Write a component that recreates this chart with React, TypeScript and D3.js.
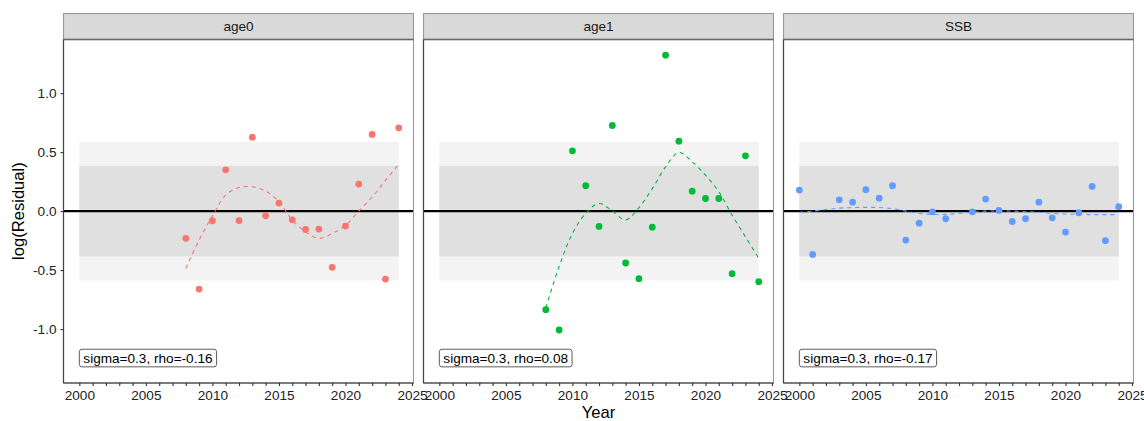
import React, { useEffect, useRef } from "react";
import * as d3 from "d3";

// facets
const panelNames = ["age0", "age1", "SSB"];
const panelColors = ["#F8766D", "#00BA38", "#619CFF"];
const panelLabels = ["sigma=0.3, rho=-0.16", "sigma=0.3, rho=0.08", "sigma=0.3, rho=-0.17"];

// age0
const age0Years = [2008, 2009, 2010, 2011, 2012, 2013, 2014, 2015, 2016, 2017, 2018, 2019, 2020, 2021, 2022, 2023, 2024];
const age0Resid = [-0.231, -0.661, -0.082, 0.35, -0.08, 0.627, -0.04, 0.068, -0.074, -0.155, -0.152, -0.477, -0.127, 0.229, 0.65, -0.576, 0.706];
const age0Smooth = [-0.486, -0.246, -0.04, 0.136, 0.2, 0.206, 0.17, 0.08, -0.076, -0.175, -0.231, -0.19, -0.12, 0.0, 0.12, 0.26, 0.396];

// age1
const age1Years = [2008, 2009, 2010, 2011, 2012, 2013, 2014, 2015, 2016, 2017, 2018, 2019, 2020, 2021, 2022, 2023, 2024];
const age1Resid = [-0.836, -1.008, 0.511, 0.215, -0.13, 0.726, -0.44, -0.573, -0.136, 1.322, 0.593, 0.169, 0.107, 0.107, -0.531, 0.469, -0.599];
const age1Smooth = [-0.82, -0.47, -0.19, -0.02, 0.065, 0.0, -0.075, 0.03, 0.19, 0.375, 0.497, 0.418, 0.305, 0.164, -0.034, -0.218, -0.4];

// SSB
const ssbYears = [2000, 2001, 2003, 2004, 2005, 2006, 2007, 2008, 2009, 2010, 2011, 2013, 2014, 2015, 2016, 2017, 2018, 2019, 2020, 2021, 2022, 2023, 2024];
const ssbResid = [0.178, -0.367, 0.096, 0.076, 0.181, 0.11, 0.215, -0.246, -0.102, -0.006, -0.065, -0.006, 0.102, 0.006, -0.088, -0.065, 0.076, -0.057, -0.178, -0.014, 0.209, -0.251, 0.037];
const ssbSmooth = [-0.01, 0.0, 0.025, 0.03, 0.032, 0.03, 0.02, 0.0, -0.02, -0.028, -0.028, -0.01, 0.0, 0.0, 0.0, -0.005, -0.01, -0.02, -0.025, -0.028, -0.03, -0.03, -0.03];

const panelYears = [age0Years, age1Years, ssbYears];
const panelResid = [age0Resid, age1Resid, ssbResid];
const panelSmooth = [age0Smooth, age1Smooth, ssbSmooth];

// shaded bands (outer, inner) and their year span
const bandLimits = [0.588, 0.384];
const bandYears = [2000, 2024];

const yTicks = [-1.0, -0.5, 0.0, 0.5, 1.0];
const xTicks = d3.range(2000, 2026);

const App = () => {
  const ref = useRef<SVGSVGElement>(null);

  useEffect(() => {
    if (!ref.current) return;
    document.body.style.margin = "0";
    const svg = d3.select(ref.current);
    svg.selectAll("*").remove();

    const font = "'Liberation Sans', Arial, Helvetica, sans-serif";
    const panelW = 350;
    const gap = 10;
    const left0 = 63.5;
    const stripTop = 13.5;
    const panelTop = 39.5;
    const panelBottom = 383;

    const y = d3.scaleLinear().domain([-1.4576, 1.4551]).range([panelBottom, panelTop]);

    panelNames.forEach((name, i) => {
      const px = left0 + i * (panelW + gap);
      const x = d3.scaleLinear().domain([1998.81, 2025.11]).range([px, px + panelW]);
      const col = panelColors[i];
      const g = svg.append("g");

      // panel background
      g.append("rect")
        .attr("x", px).attr("y", panelTop)
        .attr("width", panelW).attr("height", panelBottom - panelTop)
        .attr("fill", "#fff");

      // bands
      g.append("rect")
        .attr("x", x(bandYears[0])).attr("y", y(bandLimits[0]))
        .attr("width", x(bandYears[1]) - x(bandYears[0]))
        .attr("height", y(-bandLimits[0]) - y(bandLimits[0]))
        .attr("fill", "#f3f3f3");
      g.append("rect")
        .attr("x", x(bandYears[0])).attr("y", y(bandLimits[1]))
        .attr("width", x(bandYears[1]) - x(bandYears[0]))
        .attr("height", y(-bandLimits[1]) - y(bandLimits[1]))
        .attr("fill", "#e0e0e0");

      // zero line
      g.append("line")
        .attr("x1", px).attr("x2", px + panelW)
        .attr("y1", y(0)).attr("y2", y(0))
        .attr("stroke", "#000").attr("stroke-width", 2.2);

      // smoother
      const years = panelYears[i];
      const smooth = years.map((yr, k) => [yr, panelSmooth[i][k]] as [number, number]);
      const line = d3.line<[number, number]>()
        .x(d => x(d[0]))
        .y(d => y(d[1]))
        .curve(d3.curveCatmullRom.alpha(0.5));
      g.append("path")
        .datum(smooth)
        .attr("fill", "none")
        .attr("stroke", col)
        .attr("stroke-width", 1.1)
        .attr("stroke-dasharray", "4,4")
        .attr("d", line);

      // points
      g.selectAll(".pt")
        .data(years.map((yr, k) => [yr, panelResid[i][k]]))
        .enter()
        .append("circle")
        .attr("cx", d => x(d[0]))
        .attr("cy", d => y(d[1]))
        .attr("r", 3.4)
        .attr("fill", col);

      // label box
      const lbl = g.append("text")
        .attr("x", x(2000) + 4)
        .attr("y", y(-1.246))
        .attr("dy", "0.36em")
        .attr("font-family", font)
        .attr("font-size", "13.6px")
        .attr("fill", "#000")
        .text(panelLabels[i]);
      const bb = (lbl.node() as SVGTextElement).getBBox();
      g.insert("rect", "text")
        .attr("x", x(2000))
        .attr("y", y(-1.246) - 8.8)
        .attr("width", bb.width + 8)
        .attr("height", 17.6)
        .attr("rx", 2.5)
        .attr("fill", "#fff")
        .attr("stroke", "#333")
        .attr("stroke-width", 0.8);

      // panel border
      g.append("rect")
        .attr("x", px).attr("y", panelTop)
        .attr("width", panelW).attr("height", panelBottom - panelTop)
        .attr("fill", "none")
        .attr("stroke", "#999")
        .attr("stroke-width", 1.1);

      // strip
      g.append("rect")
        .attr("x", px).attr("y", stripTop)
        .attr("width", panelW).attr("height", panelTop - stripTop)
        .attr("fill", "#d9d9d9")
        .attr("stroke", "#999")
        .attr("stroke-width", 1.1);
      g.append("line")
        .attr("x1", px).attr("x2", px + panelW)
        .attr("y1", panelTop).attr("y2", panelTop)
        .attr("stroke", "#666").attr("stroke-width", 1.6);
      g.append("text")
        .attr("x", px + panelW / 2)
        .attr("y", (stripTop + panelTop) / 2)
        .attr("dy", "0.36em")
        .attr("text-anchor", "middle")
        .attr("font-family", font)
        .attr("font-size", "13.6px")
        .attr("fill", "#1a1a1a")
        .text(name);

      // axis lines
      g.append("line")
        .attr("x1", px).attr("x2", px)
        .attr("y1", panelTop).attr("y2", panelBottom)
        .attr("stroke", "#444").attr("stroke-width", 1.2);
      g.append("line")
        .attr("x1", px).attr("x2", px + panelW)
        .attr("y1", panelBottom).attr("y2", panelBottom)
        .attr("stroke", "#333").attr("stroke-width", 1.2);

      // x axis
      const xAxis = g.append("g")
        .attr("transform", `translate(0,${panelBottom})`)
        .call(d3.axisBottom(x).tickValues(xTicks).tickSize(3).tickPadding(4)
          .tickFormat(d => (+d % 5 === 0 ? String(d) : "")));
      xAxis.select(".domain").remove();
      xAxis.selectAll("line").attr("stroke", "#333").attr("stroke-width", 1.1);
      xAxis.selectAll("text")
        .attr("font-family", font)
        .attr("font-size", "13.6px")
        .attr("fill", "#222");

      if (i === 0) {
        const yAxis = g.append("g")
          .attr("transform", `translate(${px},0)`)
          .call(d3.axisLeft(y).tickValues(yTicks).tickSize(3).tickPadding(4)
            .tickFormat(d => (+d).toFixed(1)));
        yAxis.select(".domain").remove();
        yAxis.selectAll("line").attr("stroke", "#333").attr("stroke-width", 1.1);
        yAxis.selectAll("text")
          .attr("font-family", font)
          .attr("font-size", "13.6px")
          .attr("fill", "#222");
      }
    });

    // axis titles
    svg.append("text")
      .attr("x", left0 + panelW * 1.5 + gap)
      .attr("y", 418)
      .attr("text-anchor", "middle")
      .attr("font-family", font)
      .attr("font-size", "16.6px")
      .attr("fill", "#000")
      .text("Year");
    svg.append("text")
      .attr("transform", `translate(24,${y(0)}) rotate(-90)`)
      .attr("text-anchor", "middle")
      .attr("font-family", font)
      .attr("font-size", "16.6px")
      .attr("fill", "#000")
      .text("log(Residual)");
  }, []);

  return <svg ref={ref} width={1144} height={421} style={{ display: "block", background: "#fff" }} />;
};

export default App;
